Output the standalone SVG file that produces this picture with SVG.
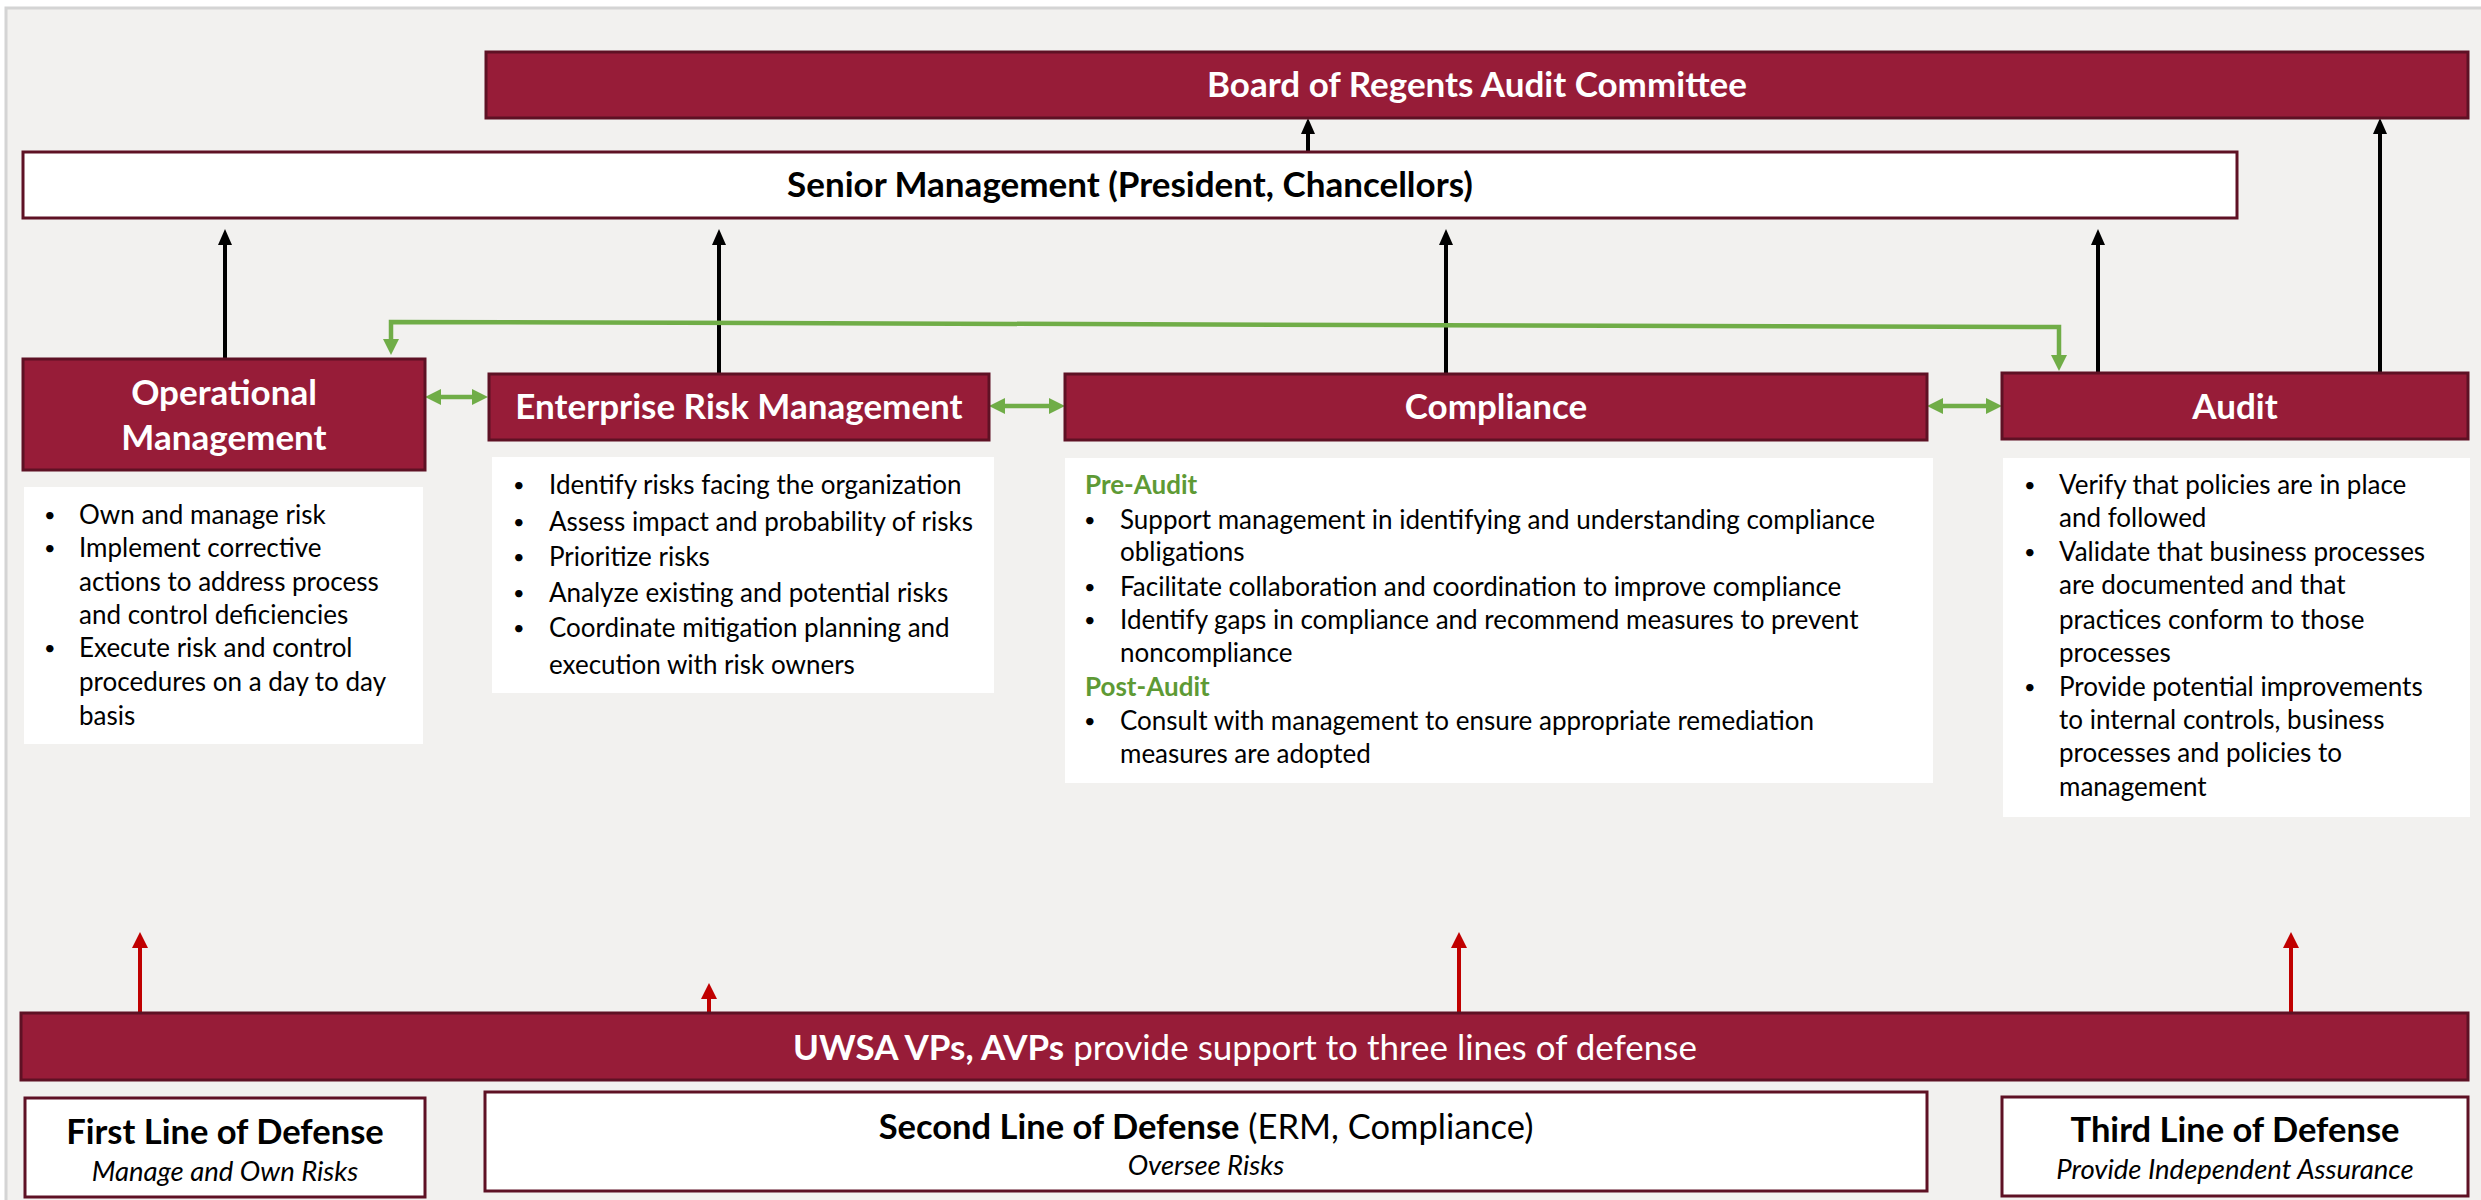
<svg xmlns="http://www.w3.org/2000/svg" width="2481" height="1200" viewBox="0 0 2481 1200">
<defs>
<style>
.mr{fill:#971C38;stroke:#5E1124;stroke-width:3}
.wb{fill:#fff;stroke:#5E1124;stroke-width:3}
.tb{fill:#fff}
.tt{font-family:Lato,"Open Sans",sans-serif;font-weight:bold;font-size:35px;fill:#fff;text-anchor:middle}
.tk{font-family:Lato,"Open Sans",sans-serif;font-weight:bold;font-size:35px;fill:#000;text-anchor:middle}
.tl{font-family:Lato,"Open Sans",sans-serif;font-weight:bold;font-size:34.5px;fill:#000;text-anchor:middle}
.it{font-family:Lato,"Open Sans",sans-serif;font-style:italic;font-size:27.5px;fill:#000;text-anchor:middle}
.bd{font-family:Lato,"Open Sans",sans-serif;font-size:26px;fill:#000}
.bu{font-family:Lato,"Open Sans",sans-serif;font-size:20px;fill:#000}
.gh{font-family:Lato,"Open Sans",sans-serif;font-weight:bold;font-size:26px;fill:#5E9A35}
.ab{stroke:#000;stroke-width:4;fill:none}
.ag{stroke:#70AD47;stroke-width:4.5;fill:none}
.ar{stroke:#C00000;stroke-width:4;fill:none}
</style>
<marker id="hb" markerUnits="userSpaceOnUse" markerWidth="16" markerHeight="14" refX="0" refY="7" orient="auto-start-reverse"><path d="M0,0 L16,7 L0,14 z" fill="#000"/></marker>
<marker id="hg" markerUnits="userSpaceOnUse" markerWidth="16" markerHeight="16" refX="0" refY="8" orient="auto-start-reverse"><path d="M0,0 L16,8 L0,16 z" fill="#70AD47"/></marker>
<marker id="hr" markerUnits="userSpaceOnUse" markerWidth="16" markerHeight="16" refX="0" refY="8" orient="auto-start-reverse"><path d="M0,0 L16,8 L0,16 z" fill="#C00000"/></marker>
</defs>
<rect x="0" y="0" width="2481" height="1200" fill="#fff"/>
<rect x="6" y="8" width="2480" height="1200" fill="#F2F1EF" stroke="#D4D4D4" stroke-width="3"/>

<g id="connectors">
<line class="ab" x1="1308" y1="152" x2="1308" y2="134" marker-end="url(#hb)"/>
<line class="ab" x1="225" y1="359" x2="225" y2="245" marker-end="url(#hb)"/>
<line class="ab" x1="719" y1="374" x2="719" y2="245" marker-end="url(#hb)"/>
<line class="ab" x1="1446" y1="374" x2="1446" y2="245" marker-end="url(#hb)"/>
<line class="ab" x1="2098" y1="373" x2="2098" y2="245" marker-end="url(#hb)"/>
<line class="ab" x1="2380" y1="373" x2="2380" y2="134" marker-end="url(#hb)"/>
<path class="ag" d="M391,339 L391,322 L2059,327 L2059,355" marker-start="url(#hg)" marker-end="url(#hg)"/>
<line class="ag" x1="441" y1="397" x2="472" y2="397" marker-start="url(#hg)" marker-end="url(#hg)"/>
<line class="ag" x1="1005" y1="406" x2="1049" y2="406" marker-start="url(#hg)" marker-end="url(#hg)"/>
<line class="ag" x1="1943" y1="406" x2="1986" y2="406" marker-start="url(#hg)" marker-end="url(#hg)"/>
<line class="ar" x1="140" y1="1013" x2="140" y2="948" marker-end="url(#hr)"/>
<line class="ar" x1="709" y1="1013" x2="709" y2="999" marker-end="url(#hr)"/>
<line class="ar" x1="1459" y1="1013" x2="1459" y2="948" marker-end="url(#hr)"/>
<line class="ar" x1="2291" y1="1013" x2="2291" y2="948" marker-end="url(#hr)"/>
</g>

<g id="board">
<rect class="mr" x="486" y="52" width="1982" height="66"/>
<text class="tt" x="1477" y="97">Board of Regents Audit Committee</text>
</g>

<g id="senior">
<rect class="wb" x="23" y="152" width="2214" height="66"/>
<text class="tk" x="1130" y="197">Senior Management (President, Chancellors)</text>
</g>

<g id="operational">
<rect class="mr" x="23" y="359" width="402" height="111"/>
<text class="tt" x="224" y="405">Operational</text>
<text class="tt" x="224" y="450">Management</text>
</g>
<g id="operational-text">
<rect class="tb" x="24" y="487" width="399" height="257"/>
<g class="bu">
<text x="44" y="522">•</text><text x="44" y="555">•</text><text x="44" y="655">•</text>
</g>
<g class="bd">
<text x="79" y="524">Own and manage risk</text>
<text x="79" y="557">Implement corrective</text>
<text x="79" y="591">actions to address process</text>
<text x="79" y="624">and control deficiencies</text>
<text x="79" y="657">Execute risk and control</text>
<text x="79" y="691">procedures on a day to day</text>
<text x="79" y="725">basis</text>
</g>
</g>

<g id="erm">
<rect class="mr" x="489" y="374" width="500" height="66"/>
<text class="tt" x="739" y="419">Enterprise Risk Management</text>
</g>
<g id="erm-text">
<rect class="tb" x="492" y="457" width="502" height="236"/>
<g class="bu">
<text x="513" y="492">•</text><text x="513" y="529">•</text><text x="513" y="564">•</text><text x="513" y="600">•</text><text x="513" y="635">•</text>
</g>
<g class="bd">
<text x="549" y="494">Identify risks facing the organization</text>
<text x="549" y="531">Assess impact and probability of risks</text>
<text x="549" y="566">Prioritize risks</text>
<text x="549" y="602">Analyze existing and potential risks</text>
<text x="549" y="637">Coordinate mitigation planning and</text>
<text x="549" y="674">execution with risk owners</text>
</g>
</g>

<g id="compliance">
<rect class="mr" x="1065" y="374" width="862" height="66"/>
<text class="tt" x="1496" y="419">Compliance</text>
</g>
<g id="compliance-text">
<rect class="tb" x="1065" y="458" width="868" height="325"/>
<text class="gh" x="1085" y="494">Pre-Audit</text>
<g class="bu">
<text x="1084" y="527">•</text><text x="1084" y="594">•</text><text x="1084" y="627">•</text><text x="1084" y="728">•</text>
</g>
<g class="bd">
<text x="1120" y="529">Support management in identifying and understanding compliance</text>
<text x="1120" y="561">obligations</text>
<text x="1120" y="596">Facilitate collaboration and coordination to improve compliance</text>
<text x="1120" y="629">Identify gaps in compliance and recommend measures to prevent</text>
<text x="1120" y="662">noncompliance</text>
</g>
<text class="gh" x="1085" y="696">Post-Audit</text>
<g class="bd">
<text x="1120" y="730">Consult with management to ensure appropriate remediation</text>
<text x="1120" y="763">measures are adopted</text>
</g>
</g>

<g id="audit">
<rect class="mr" x="2002" y="373" width="466" height="66"/>
<text class="tt" x="2235" y="419">Audit</text>
</g>
<g id="audit-text">
<rect class="tb" x="2003" y="458" width="467" height="359"/>
<g class="bu">
<text x="2024" y="492">•</text><text x="2024" y="559">•</text><text x="2024" y="694">•</text>
</g>
<g class="bd">
<text x="2059" y="494">Verify that policies are in place</text>
<text x="2059" y="527">and followed</text>
<text x="2059" y="561">Validate that business processes</text>
<text x="2059" y="594">are documented and that</text>
<text x="2059" y="629">practices conform to those</text>
<text x="2059" y="662">processes</text>
<text x="2059" y="696">Provide potential improvements</text>
<text x="2059" y="729">to internal controls, business</text>
<text x="2059" y="762">processes and policies to</text>
<text x="2059" y="796">management</text>
</g>
</g>

<g id="uwsa">
<rect class="mr" x="21" y="1013" width="2447" height="67"/>
<text class="tt" x="1245" y="1060">UWSA VPs, AVPs<tspan font-weight="normal"> provide support to three lines of defense</tspan></text>
</g>

<g id="first-line">
<rect class="wb" x="25" y="1098" width="400" height="99"/>
<text class="tl" x="225" y="1144">First Line of Defense</text>
<text class="it" x="225" y="1181">Manage and Own Risks</text>
</g>

<g id="second-line">
<rect class="wb" x="485" y="1092" width="1442" height="99"/>
<text class="tl" x="1206" y="1139">Second Line of Defense<tspan font-weight="normal"> (ERM, Compliance)</tspan></text>
<text class="it" x="1206" y="1175">Oversee Risks</text>
</g>

<g id="third-line">
<rect class="wb" x="2002" y="1097" width="466" height="99"/>
<text class="tl" x="2235" y="1142">Third Line of Defense</text>
<text class="it" x="2235" y="1179">Provide Independent Assurance</text>
</g>
</svg>
